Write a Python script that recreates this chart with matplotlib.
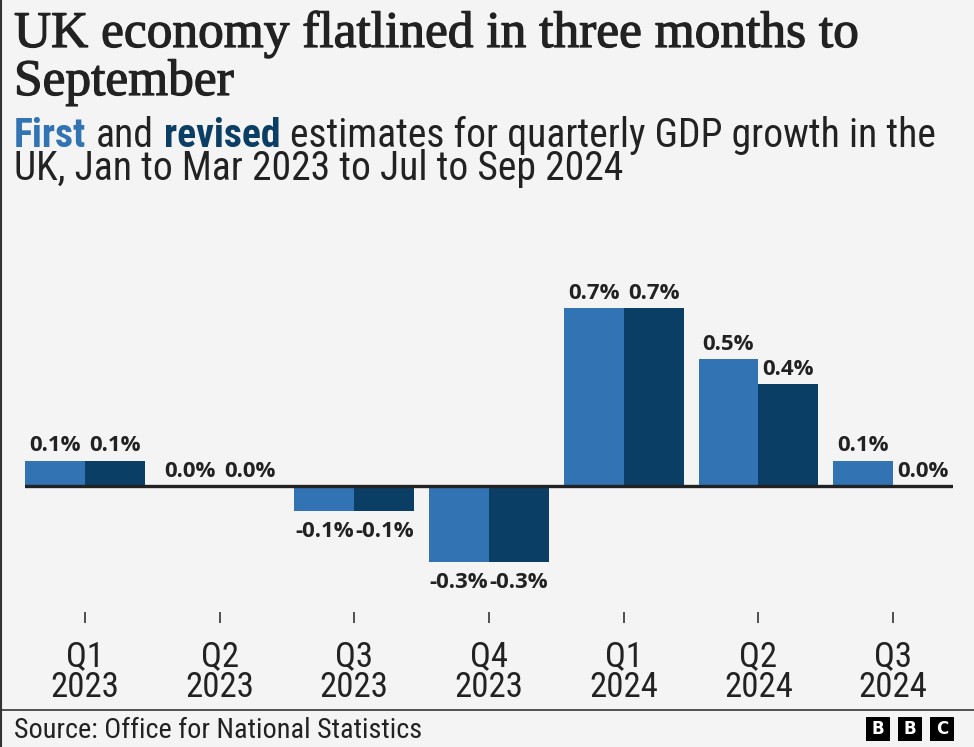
import matplotlib
matplotlib.use("Agg")
import matplotlib.pyplot as plt
import numpy as np
from matplotlib import font_manager
from matplotlib.patches import Rectangle
from matplotlib.lines import Line2D
from matplotlib.text import Annotation
import matplotlib.patheffects as pe

# datos
quarters = ["Q1\n2023", "Q2\n2023", "Q3\n2023", "Q4\n2023", "Q1\n2024", "Q2\n2024", "Q3\n2024"]
first = [0.1, 0.0, -0.1, -0.3, 0.7, 0.5, 0.1]
revised = [0.1, 0.0, -0.1, -0.3, 0.7, 0.4, 0.0]

source = "Source: Office for National Statistics"

col_first = "#3273b4"
col_revised = "#0b3e64"
bg = "#f4f4f4"
ink = "#222222"

names = {f.name for f in font_manager.fontManager.ttflist}
def pick(*cands):
    for c in cands:
        if c in names:
            return c
    return "DejaVu Sans"

serif = pick("Liberation Serif", "DejaVu Serif")
sans = pick("Liberation Sans Narrow", "Roboto Condensed", "Liberation Sans")
label_font = pick("Open Sans", "DejaVu Sans")

W, H = 974, 747
def fx(px):
    return px / W
def fy(py):
    return 1 - py / H

fig = plt.figure(figsize=(W / 100, H / 100), dpi=100, facecolor=bg)

# titulo
for txt, base in [("UK economy flatlined in three months to", 47), ("September", 95)]:
    fig.text(fx(14), fy(base), txt, family=serif, fontsize=37, color=ink, va="baseline",
             path_effects=[pe.withStroke(linewidth=0.9, foreground=ink)])

# subtitulo: cada palabra coloreada se encadena a la anterior
sub_size = 28.5
prev = fig.text(fx(14), fy(147), "First", family=sans, fontsize=sub_size, color=col_first,
                weight="bold", va="baseline")
for txt, c, w in [("and", ink, "normal"), ("revised", col_revised, "bold"),
                  ("estimates for quarterly GDP growth in the", ink, "normal")]:
    a = Annotation(txt, xy=(1, 0), xycoords=prev, xytext=(7, 0), textcoords="offset points",
                   family=sans, fontsize=sub_size, color=c, weight=w, va="bottom")
    fig.add_artist(a)
    prev = a
fig.text(fx(14), fy(180), "UK, Jan to Mar 2023 to Jul to Sep 2024", family=sans, fontsize=sub_size,
         color=ink, va="baseline")

# ejes
ax = fig.add_axes([fx(25), fy(612), fx(953) - fx(25), (612 - 270) / H])
ax.set_facecolor(bg)
xpos = np.arange(len(quarters))
w = 60 / 135
ax.bar(xpos - w / 2, first, w, color=col_first)
ax.bar(xpos + w / 2, revised, w, color=col_revised)
ax.axhline(0, color=ink, lw=2.4)
ax.set_xlim(-w, len(quarters) - 1 + w)
ax.set_ylim(-0.496, 0.85)

for i in range(len(quarters)):
    for dx, v in [(-w / 2, first[i]), (w / 2, revised[i])]:
        if v >= 0:
            ax.annotate(f"{v:.1f}%", (xpos[i] + dx, v), xytext=(0, 3), textcoords="offset points",
                        ha="center", va="bottom", fontsize=16, weight="bold", color=ink,
                        family=label_font)
        else:
            ax.annotate(f"{v:.1f}%", (xpos[i] + dx, v), xytext=(0, -7), textcoords="offset points",
                        ha="center", va="top", fontsize=16, weight="bold", color=ink,
                        family=label_font)

ax.set_xticks(xpos)
ax.set_xticklabels(quarters, family=sans, fontsize=25, color=ink, linespacing=0.95)
ax.tick_params(axis="x", length=8, width=1.2, color="#333333", pad=12)
ax.set_yticks([])
for s in ax.spines.values():
    s.set_visible(False)

# pie
fig.add_artist(Line2D([0, 1], [fy(710), fy(710)], color="#333333", lw=1.2))
fig.add_artist(Line2D([fx(0.5), fx(0.5)], [0, 1], color="#333333", lw=1.5))
fig.text(fx(14), fy(730), source, family=sans, fontsize=20.3, color=ink, va="center")
for k, letter in enumerate("BBC"):
    x0 = 866 + k * 32
    fig.add_artist(Rectangle((fx(x0), fy(741)), fx(24), 24 / H, color="black", lw=0))
    fig.text(fx(x0 + 12), fy(729), letter, family="DejaVu Sans", fontsize=12, weight="bold",
             color="white", ha="center", va="center")

fig.savefig("out.png", dpi=100, facecolor=bg)
